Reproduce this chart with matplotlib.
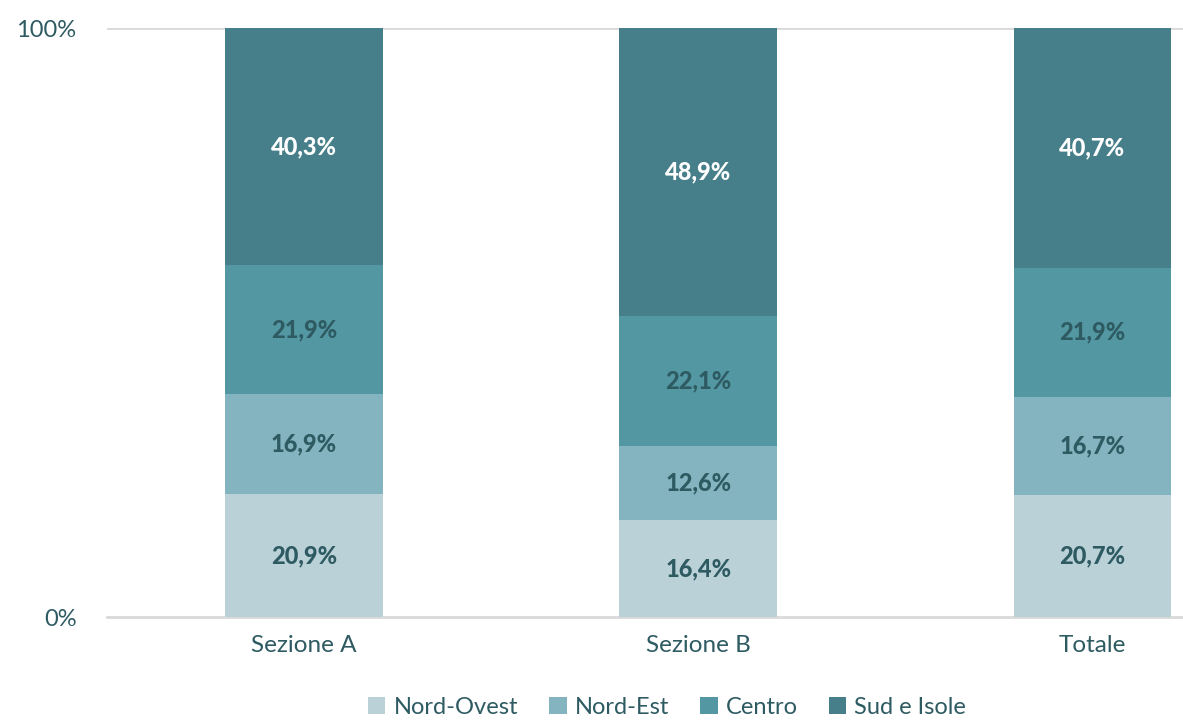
import matplotlib
matplotlib.use("Agg")
import matplotlib.pyplot as plt

categories = ["Sezione A", "Sezione B", "Totale"]
series = ["Nord-Ovest", "Nord-Est", "Centro", "Sud e Isole"]
nord_ovest = [20.9, 16.4, 20.7]
nord_est = [16.9, 12.6, 16.7]
centro = [21.9, 22.1, 21.9]
sud_isole = [40.3, 48.9, 40.7]

COLORS = ["#BAD1D7", "#84B4BF", "#5397A3", "#467F8A"]
LABEL_COLORS = ["#2E5A62", "#2E5A62", "#2E5A62", "#FFFFFF"]
TXT = "#2E5A62"

plt.rcParams["font.family"] = ["Lato", "DejaVu Sans"]

fig = plt.figure(figsize=(11.83, 7.22), dpi=100)
ax = fig.add_axes([0.0904, 0.1454, 0.9096, 0.8158])

x = list(range(len(categories)))
bottom = [0.0] * len(categories)
for name, vals, col, lc in zip(series, [nord_ovest, nord_est, centro, sud_isole], COLORS, LABEL_COLORS):
    ax.bar(x, vals, width=0.40, bottom=bottom, color=col, label=name, zorder=3)
    for xi, b, v in zip(x, bottom, vals):
        ax.text(xi, b + v / 2, f"{v:.1f}%".replace(".", ","), ha="center", va="center",
                fontsize=17, fontweight="black", color=lc, zorder=4)
    bottom = [b + v for b, v in zip(bottom, vals)]

ax.set_xlim(-0.5, 2.23)
ax.set_ylim(0, 100)
ax.set_yticks([0, 100])
ax.set_yticklabels(["0%", "100%"])
ax.set_xticks(x)
ax.set_xticklabels(categories)
ax.tick_params(axis="both", length=0, labelsize=17.5, labelcolor=TXT)
ax.tick_params(axis="x", pad=13)
ax.tick_params(axis="y", pad=22, labelsize=17)
for s in ["top", "right", "left"]:
    ax.spines[s].set_visible(False)
ax.spines["bottom"].set_color("#D9D9D9")
ax.spines["bottom"].set_linewidth(2)
ax.axhline(100, color="#D9D9D9", lw=2, zorder=1)

leg = fig.legend(loc="center", ncol=4, frameon=False, bbox_to_anchor=(667 / 1183, 1 - 707 / 722),
                 fontsize=17, handlelength=0.75, handleheight=0.75, handletextpad=0.35,
                 columnspacing=1.3, borderpad=0.1)
for t in leg.get_texts():
    t.set_color(TXT)

fig.savefig("out.png", dpi=100)
